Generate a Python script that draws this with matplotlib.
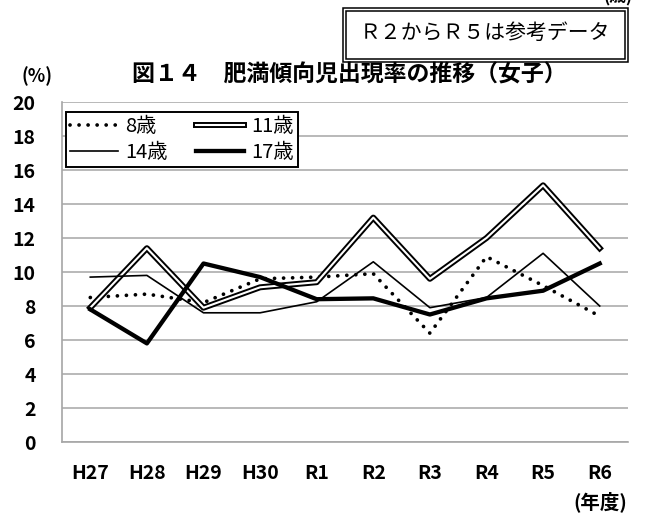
import matplotlib
matplotlib.use("Agg")
import matplotlib.pyplot as plt
import matplotlib.patheffects as pe
from matplotlib.patches import Rectangle

plt.rcParams['font.family'] = ['Noto Sans CJK JP', 'DejaVu Sans']

years = ["H27", "H28", "H29", "H30", "R1", "R2", "R3", "R4", "R5", "R6"]
age8 = [8.5, 8.7, 8.2, 9.6, 9.7, 9.9, 6.4, 10.9, 9.2, 7.4]
age11 = [7.9, 11.4, 7.9, 9.1, 9.4, 13.2, 9.6, 12.0, 15.1, 11.4]
age14 = [9.7, 9.8, 7.6, 7.6, 8.25, 10.6, 7.9, 8.5, 11.1, 8.0]
age17 = [7.8, 5.8, 10.5, 9.7, 8.4, 8.45, 7.5, 8.45, 8.9, 10.5]
yticks = [0, 2, 4, 6, 8, 10, 12, 14, 16, 18, 20]

W, H = 647, 519
fig = plt.figure(figsize=(W / 100, H / 100), dpi=100)
ax = fig.add_axes([62 / W, 1 - 442 / H, (628 - 62) / W, (442 - 102) / H])

x = list(range(len(years)))
l8, = ax.plot(x, age8, color='black', lw=2.7, linestyle=(0, (0.01, 2.4)),
              dash_capstyle='round', label='8歳', zorder=3)
l11, = ax.plot(x, age11, color='white', lw=1.5, label='11歳', zorder=3,
               path_effects=[pe.Stroke(linewidth=4.3, foreground='black'), pe.Normal()])
l14, = ax.plot(x, age14, color='black', lw=1.2, label='14歳', zorder=3)
l17, = ax.plot(x, age17, color='black', lw=3.1, label='17歳', zorder=4)

ax.set_xlim(-0.5, len(years) - 0.5)
ax.set_ylim(0, 20)
ax.set_yticks(yticks)
ax.set_xticks(x)
ax.set_xticklabels(years, fontsize=14, fontweight='bold')
ax.set_yticklabels([str(v) for v in yticks], fontsize=14, fontweight='bold')
ax.tick_params(axis='x', length=0, pad=16)
ax.tick_params(axis='y', length=0, pad=19)
ax.grid(axis='y', color='#a6a6a6', lw=1.1)
ax.set_axisbelow(True)
for s in ['top', 'right']:
    ax.spines[s].set_visible(False)
for s in ['left', 'bottom']:
    ax.spines[s].set_color('#a6a6a6')
    ax.spines[s].set_linewidth(1.2)

leg = ax.legend(handles=[l8, l14, l11, l17], ncol=2, loc='upper left',
                bbox_to_anchor=(4 / 566, 1 - 10 / 340), fontsize=14.5,
                frameon=True, fancybox=False, edgecolor='black', framealpha=1,
                handlelength=2.4, handletextpad=0.35, columnspacing=1.4,
                labelspacing=0.25, borderpad=0.2, borderaxespad=0)
leg.get_frame().set_linewidth(1.4)

fig.text(349 / W, 1 - 75 / H, '図１４　肥満傾向児出現率の推移（女子）', fontsize=16.5,
         fontweight='bold', ha='center', va='center')
fig.text(37 / W, 1 - 76 / H, '(%)', fontsize=13, fontweight='bold', ha='center', va='center')
fig.text(600 / W, 1 - 502 / H, '(年度)', fontsize=14, fontweight='bold', ha='center', va='center')
fig.text(618 / W, 1 + 3 / H, '(歳)', fontsize=12, fontweight='bold', ha='center', va='center')

# double-bordered note box
fig.patches.append(Rectangle((343 / W, 1 - 62 / H), (628 - 343) / W, (62 - 8) / H,
                             transform=fig.transFigure, fill=False, edgecolor='black', lw=1.1))
fig.patches.append(Rectangle((346 / W, 1 - 59 / H), (625 - 346) / W, (59 - 11) / H,
                             transform=fig.transFigure, fill=False, edgecolor='black', lw=1.1))
fig.text(485 / W, 1 - 33 / H, 'Ｒ２からＲ５は参考データ', fontsize=15,
         ha='center', va='center')

fig.savefig('out.png', dpi=100)
